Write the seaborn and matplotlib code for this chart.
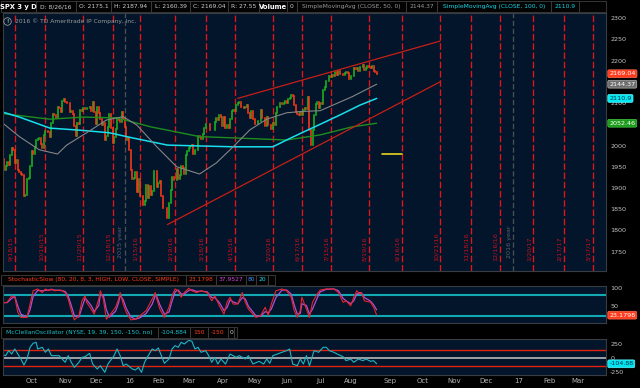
import numpy as np
import pandas as pd
import matplotlib
matplotlib.use("Agg")
import matplotlib.pyplot as plt
from matplotlib.patches import Rectangle
import seaborn as sns

# SPX daily closes, 2015-09-01 .. 2016-08-26
closes = [
    1913.85, 1948.86, 1951.13, 1921.22, 1969.41, 1942.04, 1952.29, 1961.05, 1953.03, 1978.09,
    1995.31, 1990.20, 1958.03, 1966.97, 1942.74, 1938.76, 1932.24, 1931.34, 1881.77, 1884.09, 1920.03,
    1923.82, 1951.36, 1987.05, 1979.92, 1995.83, 2013.43, 2014.89, 2017.46, 2003.69, 1994.24, 2023.86,
    2033.11, 2033.66, 2030.77, 2018.94, 2052.51, 2075.15, 2071.18, 2065.89, 2090.35, 2089.41, 2079.36,
    2104.05, 2109.79, 2102.31, 2099.93, 2099.20, 2078.58, 2081.72, 2075.00, 2045.97, 2023.04,
    2053.19, 2050.44, 2083.58, 2081.24, 2089.17, 2086.59, 2089.14, 2088.87, 2090.11, 2080.41,
    2102.63, 2079.51, 2049.62, 2091.69, 2077.07, 2063.59, 2047.62, 2052.23, 2012.37, 2021.94, 2043.41,
    2073.07, 2041.89, 2005.55, 2021.15, 2038.97, 2064.29, 2060.99, 2056.50, 2078.36, 2063.36, 2043.94,
    2012.66, 2016.71, 1990.26, 1943.09, 1922.03, 1923.67, 1938.68, 1890.28, 1921.84, 1880.33,
    1881.33, 1859.33, 1868.99, 1906.90, 1877.08, 1903.63, 1882.95, 1893.36, 1940.24,
    1939.38, 1903.03, 1912.53, 1915.45, 1880.05, 1853.44, 1852.21, 1851.86, 1829.08, 1864.78,
    1895.58, 1926.82, 1917.83, 1917.78, 1945.50, 1921.27, 1929.80, 1951.70, 1948.05, 1932.23,
    1978.35, 1986.45, 1993.40, 1999.99, 2001.76, 1979.26, 1989.26, 1989.57, 2022.19, 2019.64, 2015.93,
    2027.22, 2040.59, 2049.58, 2051.60, 2049.80, 2036.71, 2035.94, 2037.05, 2055.01, 2063.95, 2059.74,
    2072.78, 2066.13, 2045.17, 2066.66, 2041.91, 2047.60, 2041.99, 2061.72, 2082.42, 2082.78, 2080.73,
    2094.34, 2100.80, 2102.40, 2091.48, 2091.58, 2087.79, 2091.70, 2095.15, 2075.81, 2065.30,
    2081.43, 2063.37, 2051.12, 2050.63, 2057.14, 2058.69, 2084.39, 2064.46, 2064.11, 2046.61, 2066.66,
    2047.21, 2047.63, 2040.04, 2052.32, 2048.04, 2076.06, 2090.54, 2090.10, 2099.06, 2096.95,
    2099.33, 2105.26, 2099.13, 2109.41, 2112.13, 2119.12, 2115.48, 2096.07, 2079.06, 2075.32, 2071.50,
    2077.99, 2071.22, 2083.25, 2088.90, 2085.45, 2113.32, 2037.41, 2000.54, 2036.09, 2070.77, 2098.86,
    2102.95, 2088.55, 2099.73, 2097.90, 2129.90, 2137.16, 2152.14, 2152.43, 2163.75, 2161.74,
    2166.89, 2163.78, 2173.02, 2165.17, 2175.03, 2168.48, 2169.18, 2166.58, 2170.06, 2173.60,
    2170.84, 2157.03, 2163.79, 2164.25, 2182.87, 2180.89, 2181.74, 2175.49, 2185.79, 2184.05,
    2190.15, 2178.15, 2182.22, 2187.02, 2183.87, 2182.64, 2186.90, 2175.44, 2172.47, 2169.04,
]
first_day = "2015-09-01"
holidays = ["2015-09-07", "2015-11-26", "2015-12-25", "2016-01-01", "2016-01-18", "2016-02-15",
            "2016-03-25", "2016-05-30", "2016-07-04", "2016-09-05", "2016-11-24", "2016-12-26",
            "2017-01-02", "2017-01-16", "2017-02-20", "2017-04-14"]

# moving averages (session number, value)
sma50_day = [3, 15, 28, 40, 46, 59, 72, 83, 92, 105, 118, 133, 144, 155, 166, 177, 190, 199, 212, 233, 249]
sma50 = [2056, 2021, 1990, 1980, 2001, 2030, 2060, 2068, 2048, 1997, 1950, 1933, 1959, 1997, 2037,
         2062, 2077, 2080, 2082, 2115, 2144.37]
sma100_day = [2, 15, 35, 55, 74, 89, 112, 133, 155, 181, 190, 200, 212, 225, 238, 249]
sma100 = [2081, 2067, 2041, 2036, 2030, 2018, 2001, 1999, 1997, 1997, 2013, 2030, 2050, 2072, 2095, 2110.9]
sma200_day = [2, 35, 57, 79, 101, 133, 155, 190, 212, 233, 249]
sma200 = [2076, 2062, 2067, 2065, 2044, 2021, 2018, 2013, 2025, 2044, 2052.46]

upper_dates = ["2016-04-19", "2016-10-21"]
upper_vals = [2111, 2246]
lower_dates = ["2016-02-11", "2016-10-21"]
lower_vals = [1814, 2150]
alert_dates = ["2016-08-29", "2016-09-16"]
alert_level = 1981

expirations = ["2015-09-18", "2015-10-16", "2015-11-20", "2015-12-18", "2016-01-15", "2016-02-19",
               "2016-03-18", "2016-04-15", "2016-05-20", "2016-06-17", "2016-07-15", "2016-08-19",
               "2016-09-16", "2016-10-21", "2016-11-18", "2016-12-16", "2017-01-20", "2017-02-17",
               "2017-03-17"]
year_ends = ["2015-12-31", "2016-12-30"]
year_labels = ["2015 year", "2016 year"]

price_ticks = [1750, 1800, 1850, 1900, 1950, 2000, 2050, 2100, 2150, 2200, 2250, 2300]
price_hidden = [2050, 2150]  # covered by the value tags in the reference

stoch_day = [3, 7, 10, 12, 14, 16, 20, 22, 24, 27, 30, 32, 34, 36, 38, 42, 45, 47, 49, 51,
             54, 56, 58, 59, 62, 64, 67, 68, 70, 72, 74, 78, 80, 81, 83, 85, 88, 91, 94, 98,
             102, 104, 105, 107, 110, 113, 115, 117, 119, 121, 123, 126, 128, 131, 134, 138, 141, 143, 146, 149,
             151, 153, 155, 158, 161, 163, 165, 168, 170, 173, 176, 178, 180, 183, 187, 190, 193, 195, 197, 199,
             200, 203, 205, 207, 210, 212, 216, 221, 224, 227, 229, 232, 234, 236, 238, 239, 241, 245, 247, 249]
stoch_k = [56, 59, 77, 73, 31, 17, 17, 54, 91, 96, 86, 96, 91, 96, 91, 93, 86, 68, 36, 10,
           22, 63, 77, 59, 40, 26, 68, 91, 68, 12, 22, 45, 68, 86, 54, 31, 10, 12, 22, 36,
           68, 86, 68, 40, 17, 45, 77, 96, 91, 73, 86, 98, 91, 86, 91, 86, 63, 77, 49, 26,
           59, 73, 54, 54, 86, 59, 40, 26, 17, 22, 45, 22, 54, 91, 96, 91, 73, 36, 17, 36,
           73, 40, 17, 59, 82, 93, 96, 96, 86, 59, 63, 49, 73, 91, 82, 86, 63, 59, 45, 23.1798]
stoch_d = [58, 58, 70, 75, 48, 26, 18, 38, 75, 92, 91, 92, 93, 94, 93, 92, 89, 76, 50, 22,
           18, 45, 70, 66, 50, 33, 50, 80, 78, 38, 18, 34, 58, 78, 66, 42, 18, 12, 16, 28,
           54, 78, 75, 52, 26, 32, 62, 88, 93, 82, 82, 92, 94, 89, 90, 88, 72, 72, 58, 36,
           44, 66, 60, 55, 72, 68, 48, 32, 21, 20, 33, 30, 40, 72, 93, 93, 82, 52, 26, 28,
           55, 50, 26, 40, 70, 88, 95, 96, 91, 70, 63, 55, 63, 82, 86, 85, 72, 62, 52, 37.9527]

mcc_day = [3, 6, 8, 10, 12, 14, 16, 18, 20, 22, 24, 26, 27, 30, 32, 34, 36, 38, 41, 43,
           45, 47, 49, 51, 54, 56, 58, 61, 63, 66, 68, 71, 73, 77, 79, 81, 83, 85, 89, 91,
           93, 95, 97, 99, 102, 104, 106, 108, 110, 113, 115, 117, 119, 121, 123, 126, 128, 130, 132, 134,
           137, 139, 141, 143, 145, 147, 150, 153, 155, 157, 159, 163, 165, 168, 172, 175, 177, 179, 181, 184,
           187, 190, 192, 194, 197, 199, 201, 203, 205, 208, 211, 214, 216, 218, 221, 224, 227, 229, 232, 234,
           237, 240, 242, 245, 247, 249]
mcc = [72, 42, 133, 72, 163, 72, -18, -127, -18, 193, 265, 283, 163, 193, 103, 163, 42, 42, 42, -18,
       -78, 42, -78, -169, -78, 12, 24, 84, -109, -199, -139, -259, -109, 42, 163, 42, -139, -109, -199, -217,
       -169, -259, -78, 24, 163, 133, 181, 42, -96, -18, 163, 223, 193, 283, 253, 320, 301, 163, 193, 103,
       133, 42, -78, 12, -109, -18, -109, 72, 42, 12, 42, -18, 42, -109, -60, -109, -18, -96, 42, 72,
       103, 133, 163, -109, -139, -18, -109, 42, -139, 133, 103, 193, 193, 133, 103, 60, 24, -48, -18, -78,
       -18, -48, -18, -60, -48, -104.884]

# ---- style ----
NAVY = "#02152a"
GRID_TXT = "#c4c4c4"
UP, DOWN = "#1fb51f", "#ff3a17"
EXP_RED, DATE_RED = "#e3121c", "#c8101c"
CYAN = "#14d9e8"
FUTURE_GAP = 2.6
MONTH_SHIFT = 2.3
W, H = 640, 388

sns.set_style("dark", {"axes.facecolor": NAVY, "figure.facecolor": "black",
                       "axes.edgecolor": "#383c43", "text.color": GRID_TXT,
                       "xtick.color": GRID_TXT, "ytick.color": GRID_TXT})
plt.rcParams["font.family"] = ["DejaVu Sans"]
plt.rcParams["axes.unicode_minus"] = False

cal = pd.bdate_range(first_day, "2017-05-31", freq="C", holidays=holidays)
n = len(closes)
last_day = cal[n - 1]


def pos(d):
    d = pd.Timestamp(d)
    return cal.searchsorted(d) + (FUTURE_GAP if d > last_day else 0)


def frect(x0, y0, x1, y1):
    return [x0 / W, 1 - y1 / H, (x1 - x0) / W, (y1 - y0) / H]


fig = plt.figure(figsize=(6.4, 3.88), dpi=100)
ax = fig.add_axes(frect(3, 13, 606, 271))
ax_st = fig.add_axes(frect(3, 285.5, 606, 322.5), sharex=ax)
ax_mc = fig.add_axes(frect(3, 339, 606, 375), sharex=ax)


def header(y0, y1, items):
    for text, color, x0, x1, bold in items:
        fig.add_artist(Rectangle((x0 / W, 1 - y1 / H), (x1 - x0) / W, (y1 - y0) / H,
                                 transform=fig.transFigure, fc="#030303", ec="#3e3e3e", lw=0.6))
        if text:
            fig.text((x0 + x1) / 2 / W, 1 - (y0 + y1) / 2 / H, text, color=color,
                     fontsize=4.9 if bold else 4.3, ha="center", va="center",
                     fontweight="bold" if bold else "normal")


header(1.5, 12, [("SPX 3 y D", "white", 1, 36, True), ("D: 8/26/16", "#cfcfcf", 36, 76, False),
                 ("O: 2175.1", "#cfcfcf", 76, 111, False), ("H: 2187.94", "#cfcfcf", 111, 151, False),
                 ("L: 2160.39", "#cfcfcf", 151, 190, False), ("C: 2169.04", "#cfcfcf", 190, 228, False),
                 ("R: 27.55", "#cfcfcf", 228, 259, False), ("Volume", "white", 259, 287, True),
                 ("0", "#cfcfcf", 287, 297, False),
                 ("SimpleMovingAvg (CLOSE, 50, 0)", "#9a9a9a", 297, 406, False),
                 ("2144.37", "#9a9a9a", 406, 437, False),
                 ("SimpleMovingAvg (CLOSE, 100, 0)", CYAN, 437, 551, False),
                 ("2110.9", CYAN, 551, 579, False), ("", "white", 579, 606, False)])
header(275, 284.5, [("StochasticSlow (80, 20, 8, 3, HIGH, LOW, CLOSE, SIMPLE)", "#ff3b1a", 1, 186, False),
                    ("23.1798", "#ff3b1a", 186, 216, False), ("37.9527", "#d048e0", 216, 246, False),
                    ("80", "#3b8cff", 246, 256, False), ("20", CYAN, 256, 268, False),
                    ("", "white", 268, 275, False)])
header(327, 337.5, [("McClellanOscillator (NYSE, 19, 39, 150, -150, no)", "#19c3cf", 1, 158, False),
                    ("-104.884", "#19c3cf", 158, 190, False), ("150", "#ff3b1a", 190, 208, False),
                    ("-150", "#ff3b1a", 208, 228, False), ("0", "#cfcfcf", 228, 234, False),
                    ("", "white", 234, 237, False)])

# ---- price panel ----
x = np.arange(n)
c = np.array(closes)
o = np.r_[c[0], c[:-1]]
up = c >= o
for mask, col in ((up, UP), (~up, DOWN)):
    lc = ax.vlines(x[mask], o[mask], c[mask], colors=col, lw=1.15)
    lc.set_capstyle("projecting")

sns.lineplot(x=sma200_day, y=sma200, ax=ax, color="#1f8c1f", lw=1.0)
sns.lineplot(x=sma100_day, y=sma100, ax=ax, color="#19dfee", lw=1.1)
sns.lineplot(x=sma50_day, y=sma50, ax=ax, color="#858585", lw=0.8)

ax.plot([pos(d) for d in upper_dates], upper_vals, color="#c81f18", lw=0.9)
ax.plot([pos(d) for d in lower_dates], lower_vals, color="#c81f18", lw=0.9)
ax.plot([pos(d) for d in alert_dates], [alert_level] * 2, color="#e8d41c", lw=1.2)

xt = ax.get_xaxis_transform()
for d in expirations:
    xp = pos(d)
    t = pd.Timestamp(d)
    ax.axvline(xp, color=EXP_RED, lw=0.95, ls=(0, (5, 2)), zorder=1)
    ax.annotate(f"{t.month}/{t.day}/{t:%y}", xy=(xp, 0.04), xycoords=xt, xytext=(-1.3, 0),
                textcoords="offset points", rotation=90, ha="right", va="bottom",
                fontsize=4.6, color=DATE_RED)
for d, lab in zip(year_ends, year_labels):
    xp = pos(d)
    ax.axvline(xp, color="#4a4f58", lw=0.95, ls=(0, (4, 2)), zorder=1)
    ax.annotate(lab, xy=(xp, 0.05), xycoords=xt, xytext=(-1.3, 0), textcoords="offset points",
                rotation=90, ha="right", va="bottom", fontsize=4.6, color="#5f636b")

ax.set_xlim(4.28, 399.2)
ax.set_ylim(1704.6, 2312)
ax.set_yticks(price_ticks)
ax.set_yticklabels(["" if v in price_hidden else str(v) for v in price_ticks])
ax.yaxis.tick_right()
ax.tick_params(axis="y", length=0, pad=3, labelsize=4.6, labelcolor=GRID_TXT)
ax.tick_params(axis="x", length=0, labelbottom=False)
ax.set_xlabel("")
ax.set_ylabel("")

yt = ax.get_yaxis_transform()
for val, txt, fc, ec, tc in [(2169.04, "2169.04", "#ff3b1e", "#ff6a50", "white"),
                             (2144.37, "2144.37", "#6e6e6e", "#b0b0b0", "white"),
                             (2110.9, "2110.9", "#00eaf2", "#60f6ff", "#06304a"),
                             (2052.46, "2052.46", "#1c9a1c", "#48c048", "white")]:
    ax.annotate(txt, xy=(1, val), xycoords=yt, xytext=(2.3, 0), textcoords="offset points",
                ha="left", va="center", fontsize=4.6, color=tc, annotation_clip=False, zorder=6,
                bbox=dict(boxstyle="round,pad=0.22", fc=fc, ec=ec, lw=0.5))

fig.text(15 / W, 1 - 21.5 / H, "2016 \u00a9 TD Ameritrade IP Company, Inc.", fontsize=4.3,
         color="#9c9c9c", va="center")
fig.text(7.5 / W, 1 - 21.5 / H, "!", fontsize=3.6, color="#b0b0b0", ha="center", va="center",
         fontweight="bold", bbox=dict(boxstyle="circle,pad=0.25", fc="none", ec="#b0b0b0", lw=0.5))

# ---- stochastic ----
for lvl in (80, 20):
    ax_st.axhline(lvl, color="#12a8b4", lw=1.5)
sns.lineplot(x=stoch_day, y=stoch_d, ax=ax_st, color="#b04fd6", lw=0.9)
sns.lineplot(x=stoch_day, y=stoch_k, ax=ax_st, color="#e8242a", lw=0.8)
ax_st.set_ylim(2.8, 105.6)
ax_st.set_yticks([50, 100])
ax_st.yaxis.tick_right()
ax_st.tick_params(axis="y", length=0, pad=3, labelsize=4.6, labelcolor=GRID_TXT)
ax_st.tick_params(axis="x", length=0, labelbottom=False)
ax_st.set_xlabel("")
ax_st.set_ylabel("")
ax_st.annotate("23.1798", xy=(1, stoch_k[-1]), xycoords=ax_st.get_yaxis_transform(), xytext=(2.3, 0),
               textcoords="offset points", ha="left", va="center", fontsize=4.6, color="white",
               annotation_clip=False, zorder=6,
               bbox=dict(boxstyle="round,pad=0.22", fc="#ff3b1e", ec="#ff6a50", lw=0.5))

# ---- McClellan ----
ax_mc.axhline(150, color="#e0230f", lw=1.0)
ax_mc.axhline(-150, color="#e0230f", lw=1.0)
ax_mc.axhline(0, color="#b8b8b8", lw=1.2)
sns.lineplot(x=mcc_day, y=mcc, ax=ax_mc, color="#1fb6c4", lw=0.8)
ax_mc.set_ylim(-307, 343)
ax_mc.set_yticks([-250, 0, 250])
ax_mc.yaxis.tick_right()
ax_mc.tick_params(axis="y", length=0, pad=3, labelsize=4.6, labelcolor=GRID_TXT)
ax_mc.set_xlabel("")
ax_mc.set_ylabel("")
ax_mc.annotate("-104.88", xy=(1, mcc[-1]), xycoords=ax_mc.get_yaxis_transform(), xytext=(2.3, 0),
               textcoords="offset points", ha="left", va="center", fontsize=4.6, color="#06304a",
               annotation_clip=False, zorder=6,
               bbox=dict(boxstyle="round,pad=0.22", fc="#00e2ee", ec="#60f6ff", lw=0.5))

months = pd.date_range("2015-10-01", "2017-04-01", freq="MS")
mticks = [pos(cal[cal.searchsorted(m)]) + MONTH_SHIFT for m in months]
mlabels = [m.strftime("%y") if m.month == 1 else m.strftime("%b") for m in months]
ax_mc.set_xticks(mticks)
ax_mc.set_xticklabels(mlabels)
ax_mc.tick_params(axis="x", length=0, pad=2.2, labelsize=5, labelcolor="#b4b4b4")
ax.set_xlim(4.28, 399.2)

for a in (ax, ax_st, ax_mc):
    for sp in a.spines.values():
        sp.set_color("#383c43")
        sp.set_linewidth(0.8)

fig.savefig("out.png", dpi=100, facecolor="black")
